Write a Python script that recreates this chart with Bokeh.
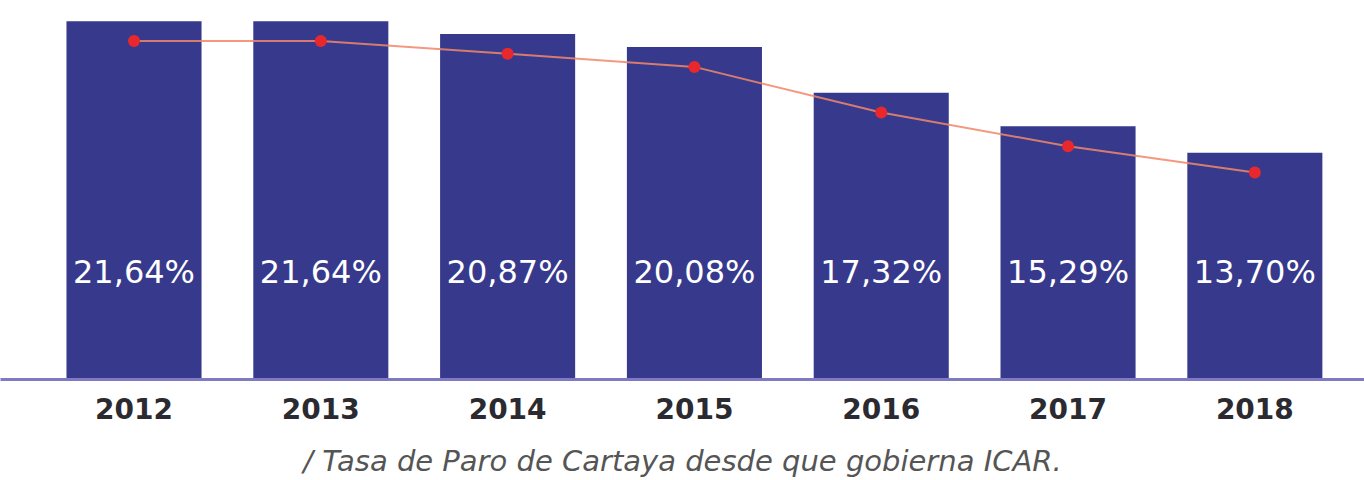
from bokeh.plotting import figure
from bokeh.models import ColumnDataSource, Range1d
from bokeh.embed import file_html
from bokeh.resources import INLINE
from bokeh.core.properties import value

years = ["2012", "2013", "2014", "2015", "2016", "2017", "2018"]
rates = [21.64, 21.64, 20.87, 20.08, 17.32, 15.29, 13.70]
labels = ["21,64%", "21,64%", "20,87%", "20,08%", "17,32%", "15,29%", "13,70%"]
caption = "/ Tasa de Paro de Cartaya desde que gobierna ICAR."

xs = list(range(len(years)))
src = ColumnDataSource(dict(x=xs, y=rates, lab=labels, zero=[0] * len(xs)))

p = figure(width=1364, height=480, output_backend="svg", toolbar_location=None,
           x_range=Range1d(-0.7147, 6.587), y_range=Range1d(0, 22.89),
           min_border_left=0, min_border_right=0, min_border_top=0,
           min_border_bottom=0)
p.extra_y_ranges = {"trend": Range1d(1.2, 24.09)}

p.vbar(x="x", top="y", width=0.723, bottom=0, source=src,
       fill_color="#373a8c", line_color=None)

p.line(x="x", y="y", source=src, y_range_name="trend",
       line_color="#f2876a", line_width=2, line_alpha=0.85)
p.scatter(x="x", y="y", source=src, y_range_name="trend",
          size=12, fill_color="#e8282c", line_color=None)

p.text(x="x", y="zero", text="lab", source=src, y_offset=-108,
       text_align="center", text_baseline="middle", text_color="white",
       text_font=value("DejaVu Sans"), text_font_size="32px")

p.yaxis.visible = False
p.xgrid.visible = False
p.ygrid.visible = False
p.outline_line_color = None

ax = p.xaxis[0]
ax.ticker = xs
ax.major_label_overrides = {i: y for i, y in zip(xs, years)}
ax.major_tick_line_color = None
ax.minor_tick_line_color = None
ax.axis_line_color = "#7f7ac4"
ax.axis_line_width = 3
ax.major_label_standoff = 12
ax.major_label_text_font = "DejaVu Sans"
ax.major_label_text_font_style = "bold"
ax.major_label_text_font_size = "28px"
ax.major_label_text_color = "#2a2a30"
ax.axis_label = caption
ax.axis_label_text_font = "DejaVu Sans"
ax.axis_label_text_font_style = "italic"
ax.axis_label_text_font_size = "29px"
ax.axis_label_text_color = "#555555"
ax.axis_label_standoff = 22

open("out.html", "w").write(file_html(p, INLINE))
